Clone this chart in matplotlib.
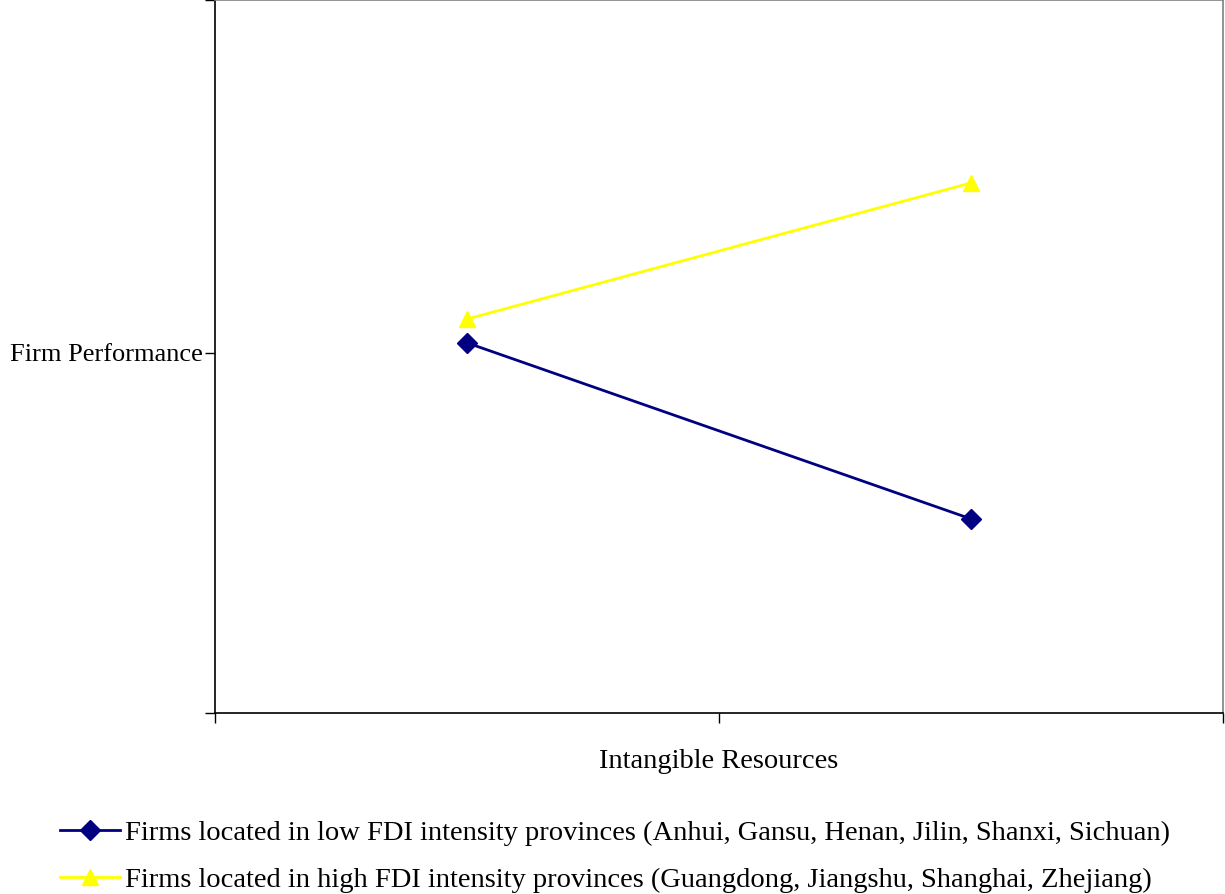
import matplotlib
matplotlib.use("Agg")
import matplotlib.pyplot as plt

# Data
categories = [0.5, 1.5]
low_fdi = [1.028, 0.539]
high_fdi = [1.094, 1.472]
series_labels = [
    "Firms located in low FDI intensity provinces (Anhui, Gansu, Henan, Jilin, Shanxi, Sichuan)",
    "Firms located in high FDI intensity provinces (Guangdong, Jiangshu, Shanghai, Zhejiang)",
]
y_ticks = [0, 1, 1.98]
y_tick_labels = ["", "Firm Performance", ""]
x_ticks = [0, 1, 2]
x_label = "Intangible Resources"

plt.rcParams['font.family'] = ['Liberation Serif', 'DejaVu Serif']
FS = 20.5

fig = plt.figure(figsize=(12.25, 8.94), dpi=100)
ax = fig.add_axes([215/1225, (894-713)/894, (1223-215)/1225, 713/894])

l1, = ax.plot(categories, low_fdi, color='#000080', lw=2, marker='D', markersize=10,
              label=series_labels[0])
l2, = ax.plot(categories, high_fdi, color='#FFFF00', lw=2, marker='^', markersize=11,
              label=series_labels[1])

ax.set_xlim(0, 2)
ax.set_ylim(0, 1.98)
ax.set_xticks(x_ticks)
ax.set_xticklabels([])
ax.set_yticks(y_ticks)
ax.set_yticklabels(y_tick_labels, fontsize=19)
ax.tick_params(axis='both', direction='out', length=7, width=1, color='black', pad=2)
ax.set_xlabel(x_label, fontsize=FS, labelpad=17)

for s in ['left', 'bottom']:
    ax.spines[s].set_color('black')
    ax.spines[s].set_linewidth(1.2)
for s in ['top', 'right']:
    ax.spines[s].set_color('#808080')
    ax.spines[s].set_linewidth(1.2)

fig.legend(handles=[l1, l2], loc='upper left', bbox_to_anchor=(60/1225, 1-820/894),
           frameon=False, fontsize=FS, handlelength=2.1, handletextpad=0.18,
           labelspacing=0.75, borderpad=0, borderaxespad=0)

fig.savefig("out.png", dpi=100)
